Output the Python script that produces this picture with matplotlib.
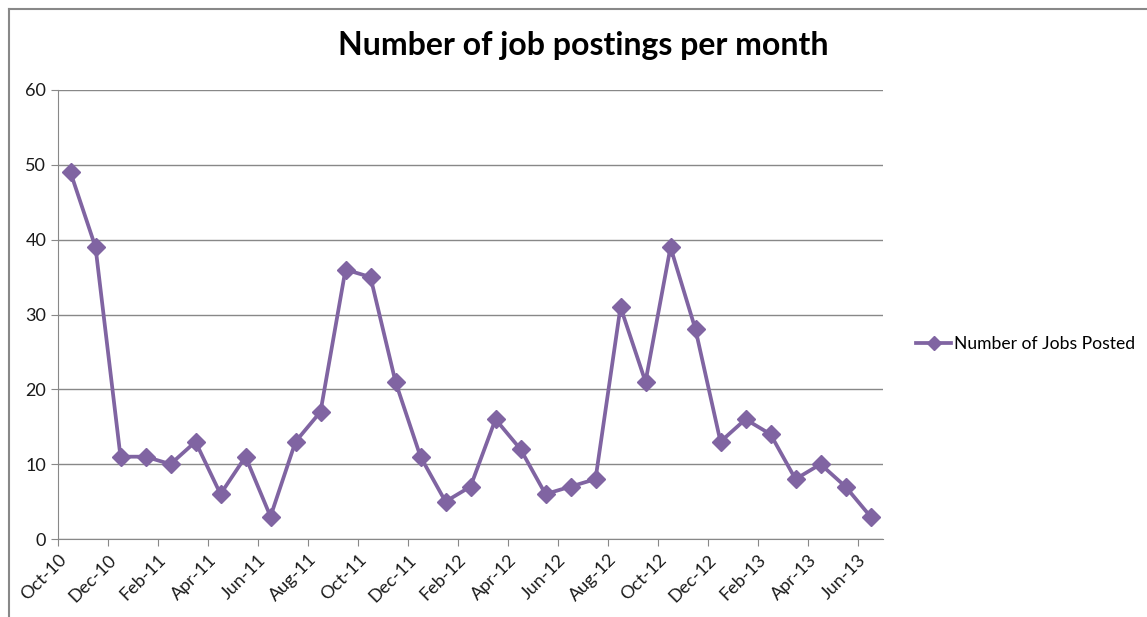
import matplotlib.pyplot as plt
from matplotlib.lines import Line2D

plt.rcParams['font.family'] = ['Lato', 'DejaVu Sans']

# Data
months = ['Oct-10', 'Nov-10', 'Dec-10', 'Jan-11', 'Feb-11', 'Mar-11', 'Apr-11', 'May-11',
          'Jun-11', 'Jul-11', 'Aug-11', 'Sep-11', 'Oct-11', 'Nov-11', 'Dec-11', 'Jan-12',
          'Feb-12', 'Mar-12', 'Apr-12', 'May-12', 'Jun-12', 'Jul-12', 'Aug-12', 'Sep-12',
          'Oct-12', 'Nov-12', 'Dec-12', 'Jan-13', 'Feb-13', 'Mar-13', 'Apr-13', 'May-13',
          'Jun-13']
jobs_posted = [49, 39, 11, 11, 10, 13, 6, 11, 3, 13, 17, 36, 35, 21, 11, 5,
               7, 16, 12, 6, 7, 8, 31, 21, 39, 28, 13, 16, 14, 8, 10, 7, 3]

purple = '#8064A2'
gray = '#888888'

fig = plt.figure(figsize=(11.47, 6.17), dpi=100)
ax = fig.add_axes([58 / 1147, 1 - 539 / 617, 825 / 1147, 449 / 617])

x = [i + 0.5 for i in range(len(months))]
ax.plot(x, jobs_posted, color=purple, linewidth=2.7, marker='D', markersize=9.5,
        label='Number of Jobs Posted')

ax.set_xlim(0, len(months))
ax.set_ylim(0, 60)
ax.set_yticks(range(0, 61, 10))
ax.set_xticks(range(0, len(months), 2))
ax.set_xticklabels(months[::2], rotation=45, ha='right', rotation_mode='anchor')

ax.grid(axis='y', color=gray, linewidth=1)
ax.set_axisbelow(True)
for side in ['top', 'right']:
    ax.spines[side].set_visible(False)
for side in ['left', 'bottom']:
    ax.spines[side].set_color(gray)
ax.tick_params(axis='both', colors=gray, length=5, labelcolor='#1a1a1a', labelsize=13)
ax.tick_params(axis='x', pad=4)

fig.text(583 / 1147, 1 - 46 / 617, 'Number of job postings per month',
         ha='center', va='center', fontsize=23, fontweight='bold')

handle = Line2D([], [], color=purple, linewidth=2.7, marker='D', markersize=7)
fig.legend([handle], ['Number of Jobs Posted'], loc='center left',
           bbox_to_anchor=(911 / 1147, 1 - 344 / 617), frameon=False,
           fontsize=12.6, handlelength=2.0, handletextpad=0.15,
           borderaxespad=0, borderpad=0.3)

# outer chart border
fig.add_artist(Line2D([8.5 / 1147, 8.5 / 1147], [0, 1 - 8.5 / 617], color=gray, linewidth=1.5))
fig.add_artist(Line2D([8.5 / 1147, 1], [1 - 8.5 / 617, 1 - 8.5 / 617], color=gray, linewidth=1.5))

fig.savefig('out.png', dpi=100)
